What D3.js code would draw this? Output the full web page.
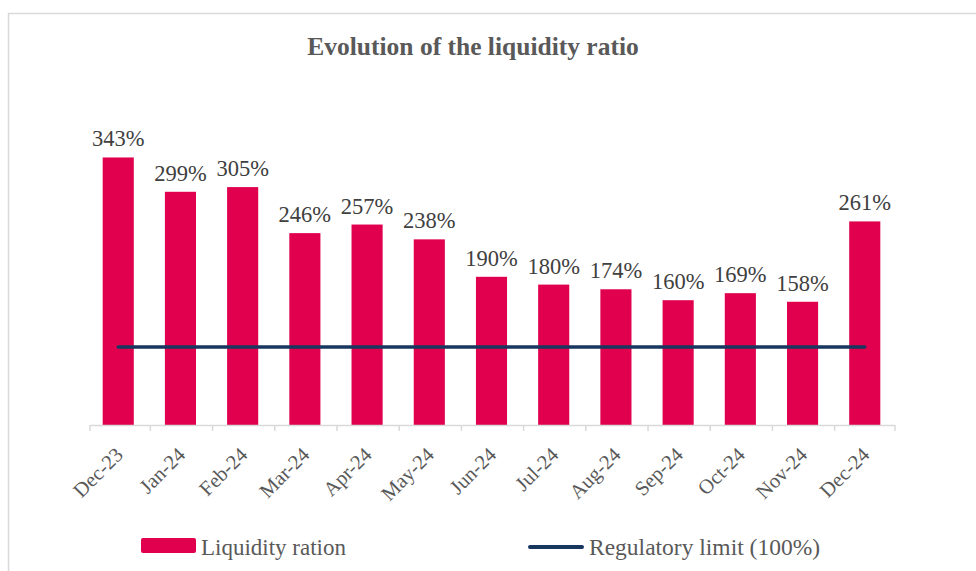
<!DOCTYPE html>
<html>
<head>
<meta charset="utf-8">
<script src="https://cdn.jsdelivr.net/npm/d3@7"></script>
<style>
  body { margin: 0; background: #fff; }
  text { font-family: "Liberation Serif", "Times New Roman", serif; }
</style>
</head>
<body>
<script>
// chart data
var months = ["Dec-23", "Jan-24", "Feb-24", "Mar-24", "Apr-24", "May-24", "Jun-24",
              "Jul-24", "Aug-24", "Sep-24", "Oct-24", "Nov-24", "Dec-24"];
var liquidity = [343, 299, 305, 246, 257, 238, 190, 180, 174, 160, 169, 158, 261];
var regulatory = [100, 100, 100, 100, 100, 100, 100, 100, 100, 100, 100, 100, 100];

var v = 976, h = 571;
var margin = { left: 90, right: 81, top: 113, bottom: 146 };
var baseY = h - margin.bottom; // 425

var svg = d3.select("body").append("svg")
    .attr("width", v)
    .attr("height", h);

// outer frame
svg.append("rect")
    .attr("x", 8.5).attr("y", 13.5)
    .attr("width", v + 20).attr("height", h + 20)
    .attr("fill", "none")
    .attr("stroke", "#d9d9d9")
    .attr("stroke-width", 1.5);

var x = d3.scaleBand()
    .domain(months)
    .range([margin.left, v - margin.right])
    .paddingInner(0.5)
    .paddingOuter(0.22);

var y = d3.scaleLinear()
    .domain([0, 400])
    .range([baseY, margin.top]);

// title
svg.append("text")
    .attr("x", 473).attr("y", 55)
    .attr("text-anchor", "middle")
    .attr("font-size", 25.5)
    .attr("font-weight", "bold")
    .attr("fill", "#595959")
    .text("Evolution of the liquidity ratio");

// bars
svg.selectAll(".bar")
    .data(liquidity)
    .enter()
    .append("rect")
    .classed("bar", true)
    .attr("x", function (d, i) { return x(months[i]) - 1; })
    .attr("y", function (d) { return y(d); })
    .attr("width", x.bandwidth())
    .attr("height", function (d) { return baseY - y(d); })
    .attr("fill", "#e0004d");

// value labels
svg.selectAll(".val")
    .data(liquidity)
    .enter()
    .append("text")
    .classed("val", true)
    .attr("x", function (d, i) { return x(months[i]) - 1 + x.bandwidth() / 2; })
    .attr("y", function (d) { return y(d) - 11; })
    .attr("text-anchor", "middle")
    .attr("font-size", 22.5)
    .attr("fill", "#404040")
    .text(function (d) { return d + "%"; });

// regulatory limit line
var line = d3.line()
    .x(function (d, i) { return x(months[i]) - 1 + x.bandwidth() / 2; })
    .y(function (d) { return y(d); });

svg.append("path")
    .datum(regulatory)
    .attr("d", line)
    .attr("fill", "none")
    .attr("stroke", "#17375e")
    .attr("stroke-width", 3.5)
    .attr("stroke-linecap", "round");

// x axis: baseline, boundary ticks, rotated labels
var axis = svg.append("g").classed("x axis", true);
var step = x.step();
var bounds = [x.range()[0]].concat(months.map(function (m) {
    return x(m) + x.bandwidth() + (step - x.bandwidth()) / 2;
}));
bounds[bounds.length - 1] = x.range()[1];

axis.append("line")
    .attr("x1", x.range()[0]).attr("x2", x.range()[1])
    .attr("y1", baseY + 0.5).attr("y2", baseY + 0.5)
    .attr("stroke", "#d9d9d9").attr("stroke-width", 1.5);

axis.selectAll(".tick")
    .data(bounds)
    .enter()
    .append("line")
    .classed("tick", true)
    .attr("x1", function (d) { return d; }).attr("x2", function (d) { return d; })
    .attr("y1", baseY).attr("y2", baseY + 6)
    .attr("stroke", "#d9d9d9").attr("stroke-width", 1.5);

axis.selectAll(".lbl")
    .data(months)
    .enter()
    .append("text")
    .classed("lbl", true)
    .attr("text-anchor", "end")
    .attr("font-size", 20.5)
    .attr("fill", "#595959")
    .attr("transform", function (d) {
        var cx = x(d) + x.bandwidth() / 2 + 5;
        return "translate(" + cx + "," + (baseY + 31) + ") rotate(-45)";
    })
    .text(function (d) { return d; });

// legend
var legend = svg.append("g").classed("legend", true);
legend.append("rect")
    .attr("x", 141).attr("y", 538)
    .attr("width", 55).attr("height", 15)
    .attr("rx", 2)
    .attr("fill", "#e0004d");
legend.append("text")
    .attr("x", 201).attr("y", 555)
    .attr("font-size", 23)
    .attr("fill", "#595959")
    .text("Liquidity ration");
legend.append("line")
    .attr("x1", 530).attr("x2", 582)
    .attr("y1", 547).attr("y2", 547)
    .attr("stroke", "#17375e")
    .attr("stroke-width", 4)
    .attr("stroke-linecap", "round");
legend.append("text")
    .attr("x", 589).attr("y", 555)
    .attr("font-size", 23.5)
    .attr("fill", "#595959")
    .text("Regulatory limit (100%)");
</script>
</body>
</html>
